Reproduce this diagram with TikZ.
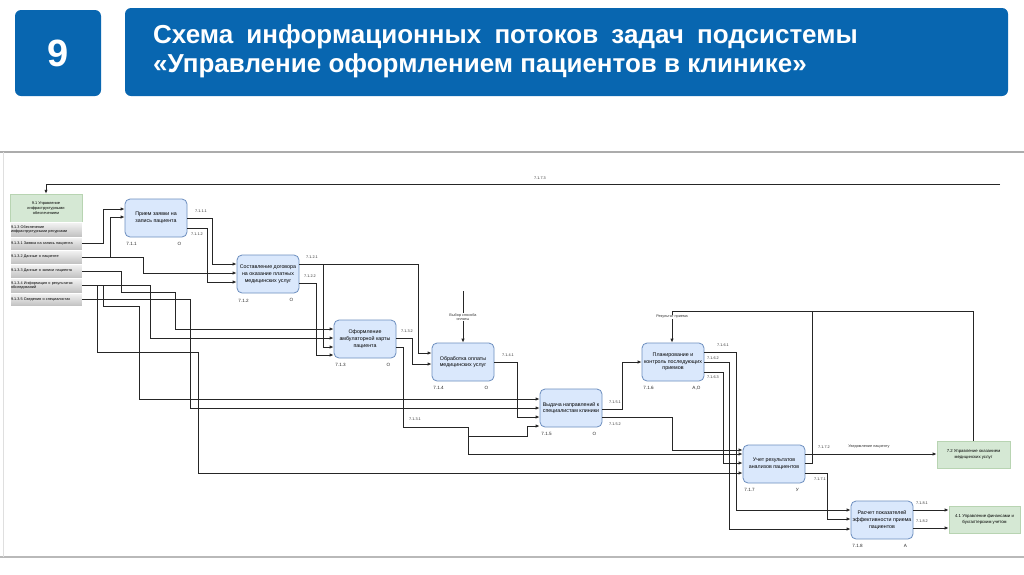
\documentclass[tikz,border=0pt]{standalone}
\usepackage{fontspec}
\setmainfont{Liberation Sans}
\usetikzlibrary{arrows.meta}
\definecolor{hdrblue}{HTML}{0866B0}
\definecolor{boxfill}{HTML}{DAE8FC}
\definecolor{boxline}{HTML}{6C8EBF}
\definecolor{grfill}{HTML}{D5E8D4}
\definecolor{grline}{HTML}{B8D4B2}
\begin{document}
\begin{tikzpicture}[x=1pt,y=-1pt,
  task/.style={draw=boxline, fill=boxfill, rounded corners=5pt, line width=0.8pt,
    minimum width=62pt, minimum height=38pt, inner sep=1pt, align=center,
    font=\fontsize{5.3}{6.7}\selectfont},
  ext/.style={draw=grline, fill=grfill, line width=0.6pt, inner sep=1pt, align=center,
    font=\fontsize{4.3}{5.4}\selectfont},
  phead/.style={draw=grline, fill=grfill, line width=0.5pt, minimum width=72pt, minimum height=28pt,
    inner sep=1pt, align=center, font=\fontsize{3.9}{4.7}\selectfont},
  prow/.style={draw=white, line width=0.5pt, top color=gray!8, bottom color=gray!50,
    text width=70pt, inner sep=1pt, align=left, font=\fontsize{3.8}{4.5}\selectfont},
  wire/.style={draw=black!85, line width=0.85pt},
  conn/.style={wire, -{Latex[length=4pt,width=3.4pt]}},
  lbl/.style={font=\fontsize{3.8}{4.6}\selectfont, inner sep=0.5pt, text=black!80},
  num/.style={font=\fontsize{4.6}{5}\selectfont, inner sep=0.5pt, text=black!85}]
\useasboundingbox (0,0) rectangle (1024,574);
\fill[white] (0,0) rectangle (1024,574);
% header
\fill[hdrblue, rounded corners=6pt] (15,10) rectangle (101,96);
\fill[hdrblue, rounded corners=6pt] (125,8) rectangle (1008,96);
\node[text=white, font=\fontsize{38}{42}\selectfont\bfseries] (num9) at (58,53) {9};
\node[anchor=west, text=white, font=\fontsize{26}{30}\selectfont\bfseries, inner sep=0pt] (t1) at (153,37)
  {Схема\hspace{6pt} информационных\hspace{6pt} потоков\hspace{6pt} задач\hspace{6pt} подсистемы};
\node[anchor=west, text=white, font=\fontsize{26}{30}\selectfont\bfseries, inner sep=0pt] (t2) at (153,66)
  {«Управление оформлением пациентов в клинике»};
% frame
\draw[gray!65, line width=1.6pt] (0,152) -- (1024,152);
\draw[gray!55, line width=1.4pt] (0,557) -- (1024,557);
\draw[gray!25, line width=0.6pt] (3,152) -- (3,557);
% left panel
\node[phead] (h0) at (46,208) {9.1 Управление\\инфраструктурными\\обеспечением};
\node[prow, minimum height=15pt] (r1) at (46,229.5) {9.1.3 Обеспечение\\инфраструктурными ресурсами};
\node[prow, minimum height=13pt] (r2) at (46,243.5) {9.1.3.1 Заявка на запись пациента};
\node[prow, minimum height=14pt] (r3) at (46,257) {9.1.3.2 Данные о пациенте};
\node[prow, minimum height=14pt] (r4) at (46,271) {9.1.3.3 Данные о записи пациента};
\node[prow, minimum height=15pt] (r5) at (46,285.5) {9.1.3.4 Информация о результатах\\обследований};
\node[prow, minimum height=13pt] (r6) at (46,299.5) {9.1.3.5 Сведения о специалистах};
% tasks
\node[task] (B1) at (156,218) {Прием заявки на\\запись пациента};
\node[task] (B2) at (268,274) {Составление договора\\на оказание платных\\медицинских услуг};
\node[task] (B3) at (365,339) {Оформление\\амбулаторной карты\\пациента};
\node[task] (B4) at (463,362) {Обработка оплаты\\медицинских услуг};
\node[task] (B5) at (571,408) {Выдача направлений к\\специалистам клиники};
\node[task] (B6) at (673,362) {Планирование и\\контроль последующих\\приемов};
\node[task] (B7) at (774,464) {Учет результатов\\анализов пациентов};
\node[task] (B8) at (882,520) {Расчет показателей\\эффективности приема\\пациентов};
\node[ext, minimum width=73pt, minimum height=27pt] (G1) at (973.5,454.5) {7.2 Управление оказанием\\медицинских услуг};
\node[ext, minimum width=71pt, minimum height=27pt] (G2) at (984.5,519.5) {4.1 Управление финансами и\\бухгалтерским учетом};
% box labels
\foreach \b/\l/\r in {B1/7.1.1/О, B2/7.1.2/О, B3/7.1.3/О, B4/7.1.4/О, B5/7.1.5/О, B6/7.1.6/{А,О}, B7/7.1.7/У, B8/7.1.8/А}{
  \node[num] at ([xshift=7pt,yshift=-7pt]\b.south west) {\l};
  \node[num] at ([xshift=-8pt,yshift=-7pt]\b.south east) {\r};
}
% branch points
\coordinate (j1) at (323,264);
\coordinate (j2) at (97,285);
\coordinate (j3) at (103,285);
\coordinate (j4) at (468,436);
\coordinate (vb) at (463,291);
\coordinate (top) at (1000,184);
% connectors
\draw[conn] (r2.east) -| (103,209) -- ([yshift=9pt]B1.west);
\draw[conn] (r3.east) -| (110,217) -- ([yshift=1pt]B1.west);
\draw[conn] (r3.east) -| (143,273) -- ([yshift=1pt]B2.west);
\draw[conn] (B1.east) -| (212,264) -- ([yshift=10pt]B2.west);
\draw[conn] ([yshift=-10pt]B1.east) -| (207,282) -- ([yshift=-8pt]B2.west);
\draw[conn] ([yshift=10pt]B2.east) -| (418,353) -- ([yshift=9pt]B4.west);
\draw[conn] (j1) |- ([yshift=-8pt]B3.west);
\draw[conn] ([yshift=-9pt]B2.east) -| (316,355) -- ([yshift=-16pt]B3.west);
\draw[conn] (r4.east) -| (121,292) -| (175,329) -- ([yshift=10pt]B3.west);
\draw[conn] (r5.east) -| (150,338) -- ([yshift=1pt]B3.west);
\draw[conn] (j2) |- (198,352) |- ([yshift=-9pt]B7.west);
\draw[conn] (j3) |- (139,306) |- ([yshift=9pt]B5.west);
\draw[conn] (r6.east) -| (190,408) -- (B5.west);
\draw[conn] ([yshift=1pt]B3.east) -| (412,364) -- ([yshift=-2pt]B4.west);
\draw[conn] ([yshift=-8pt]B3.east) -| (403,427) -| (468,454) -- ([yshift=10pt]B7.west);
\draw[conn] (j4) -| (527,426) -- ([yshift=-18pt]B5.west);
\draw[conn] (B4.east) -| (517,417) -- ([yshift=-9pt]B5.west);
\draw[conn] ([yshift=-1pt]B5.east) -| (622,362) -- (B6.west);
\draw[conn] ([yshift=-9pt]B5.east) -| (672,450) -- ([yshift=14pt]B7.west);
\draw[conn] ([yshift=10pt]B6.east) -| (736,510) -- ([yshift=10pt]B8.west);
\draw[conn] (B6.east) -| (729,529) -- ([yshift=-9pt]B8.west);
\draw[conn] ([yshift=-10pt]B6.east) -| (723,463) -- ([yshift=1pt]B7.west);
\draw[conn] ([yshift=10pt]B7.east) -- ([yshift=0.5pt]G1.west);
\draw[wire] ([yshift=1pt]B7.east) -| (812,311);
\draw[conn] ([yshift=-9pt]B7.east) -| (827,519) -- ([yshift=1pt]B8.west);
\draw[conn] ([yshift=10pt]B8.east) -- ([yshift=9.5pt]G2.west);
\draw[conn] ([yshift=-8pt]B8.east) -- ([yshift=-8.5pt]G2.west);
\draw[conn] (G1.north) |- (672,311) -- ([xshift=-1pt]B6.north);
\draw[conn] (vb) -- (B4.north);
\draw[conn] (top) -| (h0.north);
% flow labels
\node[lbl, fill=white] at (672,317) {Результат приема};
\node[lbl, fill=white, align=center] at (463,317) {Выбор способа\\оплаты};
\node[lbl] at (201,211) {7.1.1.1};
\node[lbl] at (197,234) {7.1.1.2};
\node[lbl] at (312,257) {7.1.2.1};
\node[lbl] at (310,276) {7.1.2.2};
\node[lbl] at (407,331) {7.1.3.2};
\node[lbl] at (415,419) {7.1.3.1};
\node[lbl] at (508,355) {7.1.4.1};
\node[lbl] at (615,402) {7.1.5.1};
\node[lbl] at (615,424) {7.1.5.2};
\node[lbl] at (723,345) {7.1.6.1};
\node[lbl] at (713,358) {7.1.6.2};
\node[lbl] at (713,377) {7.1.6.3};
\node[lbl] at (824,447) {7.1.7.2};
\node[lbl] at (869,447) {Уведомление пациенту};
\node[lbl] at (820,479) {7.1.7.1};
\node[lbl] at (922,503) {7.1.8.1};
\node[lbl] at (922,521) {7.1.8.2};
\node[lbl] at (540,178) {7.1.7.3};
\end{tikzpicture}
\end{document}
